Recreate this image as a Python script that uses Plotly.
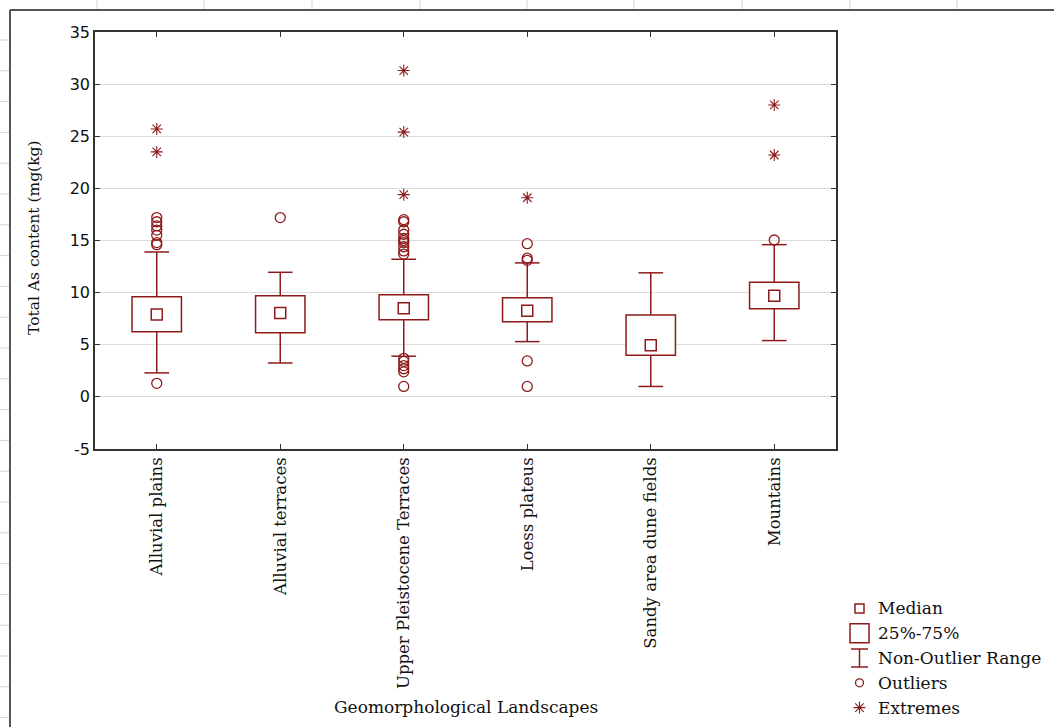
import plotly.graph_objects as go

# ---------------- data ----------------
categories = ["Alluvial plains", "Alluvial terraces", "Upper Pleistocene Terraces",
              "Loess plateus", "Sandy area dune fields", "Mountains"]
medians = [7.9, 8.05, 8.5, 8.25, 4.95, 9.7]
q1 = [6.25, 6.15, 7.4, 7.2, 4.0, 8.45]
q3 = [9.6, 9.7, 9.8, 9.5, 7.85, 11.0]
whisker_low = [2.3, 3.25, 3.9, 5.3, 1.0, 5.4]
whisker_high = [13.9, 11.95, 13.2, 12.85, 11.9, 14.6]
outliers = [
    [1.3, 14.6, 14.8, 15.5, 16.0, 16.4, 16.8, 17.2],
    [17.2],
    [1.0, 2.4, 2.7, 3.0, 3.4, 3.7, 13.7, 14.0, 14.4, 14.8, 15.0, 15.2, 15.6, 16.0, 16.8, 17.0],
    [1.0, 3.45, 13.1, 13.3, 14.7],
    [],
    [15.05],
]
extremes = [
    [23.5, 25.7],
    [],
    [19.4, 25.4, 31.3],
    [19.1],
    [],
    [23.2, 28.0],
]
y_ticks = [-5, 0, 5, 10, 15, 20, 25, 30, 35]
y_tick_labels = ["-5", "0", "5", "10", "15", "20", "25", "30", "35"]
legend_labels = ["Median", "25%-75%", "Non-Outlier Range", "Outliers", "Extremes"]

# ---------------- style ----------------
RED = "#8e1b1b"
SERIF = "DejaVu Serif"
SANS = "DejaVu Sans"
W, H = 1054, 727
PL, PR, PT, PB = 95, 836, 32, 449   # plot area in pixels
BOX_HALF = 0.2
CAP_HALF = 0.1

xs = list(range(len(categories)))

fig = go.Figure()

# boxes (25%-75%)
fig.add_trace(go.Bar(
    x=xs, y=[b - a for a, b in zip(q1, q3)], base=q1, width=2 * BOX_HALF,
    marker=dict(color="white", line=dict(color=RED, width=1.5)),
    showlegend=False, hoverinfo="skip"))

# whiskers
wx, wy = [], []
for i in xs:
    wx += [i, i, None, i, i, None,
           i - CAP_HALF, i + CAP_HALF, None, i - CAP_HALF, i + CAP_HALF, None]
    wy += [q3[i], whisker_high[i], None, q1[i], whisker_low[i], None,
           whisker_high[i], whisker_high[i], None, whisker_low[i], whisker_low[i], None]
fig.add_trace(go.Scatter(x=wx, y=wy, mode="lines", line=dict(color=RED, width=1.5),
                         showlegend=False, hoverinfo="skip"))

# medians
fig.add_trace(go.Scatter(x=xs, y=medians, mode="markers",
                         marker=dict(symbol="square-open", size=11, color=RED,
                                     line=dict(color=RED, width=1.5)),
                         showlegend=False))

# outliers
ox, oy = [], []
for i, vals in enumerate(outliers):
    ox += [i] * len(vals)
    oy += vals
fig.add_trace(go.Scatter(x=ox, y=oy, mode="markers",
                         marker=dict(symbol="circle-open", size=10, color=RED,
                                     line=dict(color=RED, width=1.3)),
                         showlegend=False))

# extremes
ex, ey = [], []
for i, vals in enumerate(extremes):
    ex += [i] * len(vals)
    ey += vals
fig.add_trace(go.Scatter(x=ex, y=ey, mode="markers",
                         marker=dict(symbol="asterisk-open", size=10, color=RED,
                                     line=dict(color=RED, width=1.1)),
                         showlegend=False))

# ---------------- custom legend (hidden axes) ----------------
LX0, LX1, LY0, LY1 = 845, 875, 596, 720
rows = [LY0 + 12.4 + 24.8 * k for k in range(5)]
cx = 14.5
fig.add_trace(go.Scatter(x=[cx], y=[rows[0]], mode="markers", xaxis="x2", yaxis="y2",
                         marker=dict(symbol="square-open", size=9, color=RED,
                                     line=dict(color=RED, width=1.5)), showlegend=False))
fig.add_trace(go.Scatter(x=[cx], y=[rows[1]], mode="markers", xaxis="x2", yaxis="y2",
                         marker=dict(symbol="square-open", size=19, color=RED,
                                     line=dict(color=RED, width=1.5)), showlegend=False))
fig.add_trace(go.Scatter(x=[cx, cx, None, cx - 8.5, cx + 8.5, None, cx - 8.5, cx + 8.5],
                         y=[rows[2] - 9, rows[2] + 9, None, rows[2] - 9, rows[2] - 9, None,
                            rows[2] + 9, rows[2] + 9],
                         mode="lines", xaxis="x2", yaxis="y2",
                         line=dict(color=RED, width=1.5), showlegend=False))
fig.add_trace(go.Scatter(x=[cx], y=[rows[3]], mode="markers", xaxis="x2", yaxis="y2",
                         marker=dict(symbol="circle-open", size=8, color=RED,
                                     line=dict(color=RED, width=1.3)), showlegend=False))
fig.add_trace(go.Scatter(x=[cx], y=[rows[4]], mode="markers", xaxis="x2", yaxis="y2",
                         marker=dict(symbol="asterisk-open", size=10, color=RED,
                                     line=dict(color=RED, width=1.1)), showlegend=False))

annotations = []
for lab, ry in zip(legend_labels, rows):
    annotations.append(dict(text=lab, x=876 / W, y=1 - ry / H, xref="paper", yref="paper",
                            xanchor="left", yanchor="middle", showarrow=False,
                            font=dict(family=SERIF, size=17, color="#111")))
annotations.append(dict(text="Geomorphological Landscapes", x=(PL + PR) / 2 / W, y=1 - 707 / H,
                        xref="paper", yref="paper", xanchor="center", yanchor="middle",
                        showarrow=False, font=dict(family=SERIF, size=17, color="#111")))
annotations.append(dict(text="Total As content (mg(kg)", x=34 / W, y=1 - 238 / H,
                        xref="paper", yref="paper", xanchor="center", yanchor="middle",
                        textangle=-90, showarrow=False,
                        font=dict(family=SERIF, size=15.5, color="#111")))

# background spreadsheet frame
shapes = [
    dict(type="line", xref="paper", yref="paper", x0=10 / W, x1=1, y0=1 - 10 / H, y1=1 - 10 / H,
         line=dict(color="#555", width=2)),
    dict(type="line", xref="paper", yref="paper", x0=10 / W, x1=10 / W, y0=0, y1=1 - 10 / H,
         line=dict(color="#555", width=2)),
]
for px in [97, 204, 312, 420, 527, 634, 742, 850, 957]:
    shapes.append(dict(type="line", xref="paper", yref="paper", x0=px / W, x1=px / W,
                       y0=1, y1=1 - 9 / H, line=dict(color="#d5d5d5", width=1)))
py = 40.0
while py < H:
    shapes.append(dict(type="line", xref="paper", yref="paper", x0=0, x1=9 / W,
                       y0=1 - py / H, y1=1 - py / H, line=dict(color="#d5d5d5", width=1)))
    py += 30.8

fig.update_layout(
    width=W, height=H,
    margin=dict(l=0, r=0, t=0, b=0),
    paper_bgcolor="white", plot_bgcolor="white",
    font=dict(family=SERIF, size=16, color="#111"),
    showlegend=False,
    annotations=annotations,
    shapes=shapes,
    xaxis=dict(domain=[PL / W, PR / W], range=[-0.5, len(categories) - 0.5],
               tickmode="array", tickvals=xs, ticktext=categories, tickangle=-90,
               showline=True, mirror="ticks", linecolor="#333", linewidth=1.5,
               ticks="inside", ticklen=5, tickcolor="#333", showgrid=False,
               zeroline=False, tickfont=dict(family=SERIF, size=16.5, color="#111"),
               automargin=False),
    yaxis=dict(domain=[1 - PB / H, 1 - PT / H], range=[-5, 35], tickmode="array",
               tickvals=y_ticks, ticktext=y_tick_labels,
               showline=True, mirror="ticks", linecolor="#333", linewidth=1.5,
               ticks="inside", ticklen=5, tickcolor="#333",
               showgrid=True, gridcolor="#dcdcdc", gridwidth=1, zeroline=False,
               tickfont=dict(family=SANS, size=16, color="#111"), automargin=False),
    xaxis2=dict(domain=[LX0 / W, LX1 / W], range=[0, 30], visible=False, anchor="y2"),
    yaxis2=dict(domain=[1 - LY1 / H, 1 - LY0 / H], range=[LY1, LY0], visible=False, anchor="x2"),
)

fig.write_html("out.html", config={"displayModeBar": False},
               post_script="document.body.style.margin='0px';document.body.style.overflow='hidden';")
